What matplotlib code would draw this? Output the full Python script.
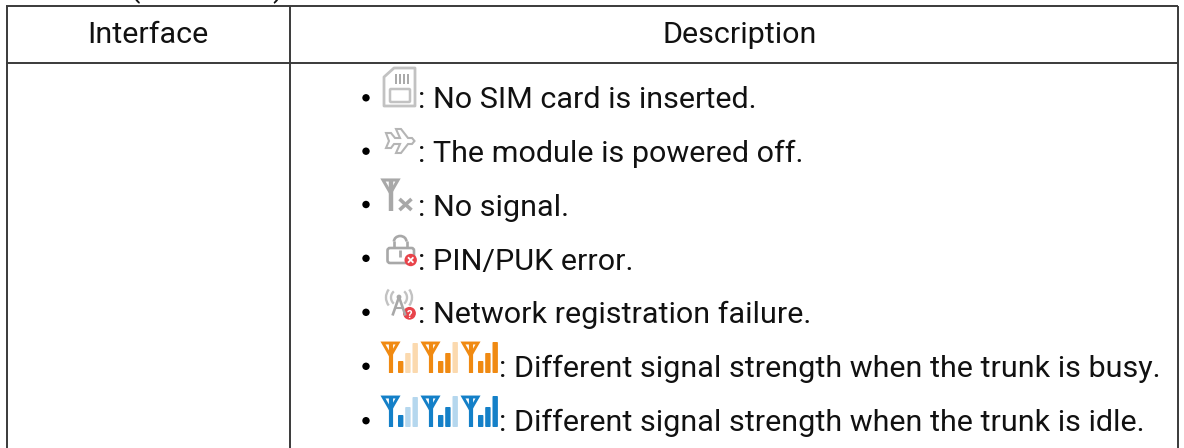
import matplotlib
matplotlib.use("Agg")
import matplotlib.pyplot as plt
from matplotlib.patches import Rectangle, FancyBboxPatch, Polygon, Circle, Arc, PathPatch
from matplotlib.path import Path

plt.rcParams['font.family'] = ['Roboto', 'DejaVu Sans']

headers = ["Interface", "Description"]
items = [
    ": No SIM card is inserted.",
    ": The module is powered off.",
    ": No signal.",
    ": PIN/PUK error.",
    ": Network registration failure.",
    ": Different signal strength when the trunk is busy.",
    ": Different signal strength when the trunk is idle.",
]
baselines = [108.2, 162.0, 215.8, 269.6, 323.4, 377.1, 431.0]
text_x = [418.5, 418.5, 418.5, 418.5, 418.5, 499, 499]
bullet_y = [97.8, 151.2, 204.5, 258.3, 312.3, 366.3, 420.7]

fig = plt.figure(figsize=(11.84, 4.48), dpi=100)
ax = fig.add_axes([0, 0, 1, 1])
ax.set_xlim(0, 1184)
ax.set_ylim(448, 0)
ax.axis('off')

LINE = '#3a3a3a'
GR = '#c2c2c2'
GD = '#a8a8a8'
FS = 21.93

def seg(xs, ys, c=LINE, lw=1.4, **k):
    ax.plot(xs, ys, color=c, lw=lw, solid_capstyle='butt', **k)

# table
seg([6, 1178], [6, 6])
seg([6, 1178], [63.3, 63.3])
seg([6.5, 6.5], [6, 448])
seg([290, 290], [6, 448])
seg([1177.5, 1177.5], [6, 448])

ax.text(148, 43.0, headers[0], fontsize=FS, ha='center', va='baseline', color='#111111')
ax.text(739.5, 43.0, headers[1], fontsize=FS, ha='center', va='baseline', color='#111111')

# clipped text above the table
ax.text(135, -3, "(", fontsize=FS, ha='center', va='baseline', color='#111111')
ax.text(278, -3, ")", fontsize=FS, ha='center', va='baseline', color='#111111')

# rows
for t, x, b, by in zip(items, text_x, baselines, bullet_y):
    ax.text(x, b, t, fontsize=FS, ha='left', va='baseline', color='#111111')
    ax.add_patch(Circle((366, by), 3.7, color='black', lw=0))

# SIM icon
ax.add_patch(PathPatch(Path([(384, 106), (384, 77), (394, 68), (415, 68), (415, 106), (384, 106)],
                            [1, 2, 2, 2, 2, 79]), fc='white', ec=GR, lw=2.0, joinstyle='round'))
ax.add_patch(FancyBboxPatch((390, 89), 20, 13, boxstyle='round,pad=0,rounding_size=1',
                            fc='white', ec=GR, lw=1.8))
for x in (396, 400, 404, 408):
    seg([x, x], [74, 84], c=GD, lw=1.4)

# plane icon
plane = [(386, 133), (391, 133), (395, 138), (400, 138), (396, 129), (401, 129), (408, 138),
         (412, 138), (414.5, 141), (412, 144), (408, 144), (401, 153), (396, 153), (400, 144),
         (394, 144), (391, 148), (386, 148), (389, 141)]
ax.add_patch(Polygon(plane, closed=True, fc='white', ec='#b5b5b5', lw=1.5))

# no-signal icon
def antenna(x, top, c, w=17, h=31, lw=2.6):
    ax.add_patch(Polygon([(x + 1, top + 1), (x + w - 1, top + 1), (x + w / 2, top + 14)], closed=True,
                         fill=False, ec=c, lw=lw * 0.7))
    seg([x + w / 2, x + w / 2], [top + 1, top + h], c=c, lw=lw)

antenna(382, 179, GD, w=17, h=32, lw=3.2)
seg([399.5, 411.5], [199, 210], c=GD, lw=2.6)
seg([399.5, 411.5], [210, 199], c=GD, lw=2.6)

# lock icon
ax.add_patch(FancyBboxPatch((389, 249.5), 23.5, 12, boxstyle='round,pad=1.5,rounding_size=2.5',
                            fc='white', ec=GD, lw=1.9))
seg([394, 394], [241, 248], c=GD, lw=1.9)
seg([406.5, 406.5], [241, 248], c=GD, lw=1.9)
ax.add_patch(Arc((400.2, 241.5), 12.5, 11, theta1=180, theta2=360, ec=GD, lw=1.9))
seg([400, 400], [250, 257], c=GD, lw=2.0)
ax.add_patch(Circle((410.7, 260), 6.2, color='#e8434a', lw=0))
seg([408, 413.4], [257.3, 262.7], c='white', lw=1.3)
seg([408, 413.4], [262.7, 257.3], c='white', lw=1.3)

# registration failure icon
seg([399, 392.5], [297, 315.5], c=GD, lw=1.9)
seg([399, 405.5], [297, 315.5], c=GD, lw=1.9)
seg([395, 403], [308, 308], c=GD, lw=1.5)
ax.add_patch(Circle((399, 297), 2.4, color=GD, lw=0))
for r, a in ((8, 50), (13, 38)):
    ax.add_patch(Arc((399, 297.5), 2 * r, 2 * r, theta1=180 - a, theta2=180 + a, ec=GR, lw=1.7))
    ax.add_patch(Arc((399, 297.5), 2 * r, 2 * r, theta1=-a, theta2=a, ec=GR, lw=1.7))
ax.add_patch(Circle((409.5, 313.3), 6.4, color='#e8434a', lw=0))
ax.text(409.5, 317.5, "?", fontsize=8, fontweight='bold', ha='center', va='baseline', color='white')

# signal icons
group_x = [382, 422, 462]
bar_tops = [[19, 11, 1], [19, 11, 0], [19, 11, 0]]
bar_lit = [[1, 0, 0], [1, 1, 0], [1, 1, 1]]
bar_dx = [16, 23.2, 30.5]

def signal(top, dark, light):
    for gx, tops, lit in zip(group_x, bar_tops, bar_lit):
        antenna(gx, top, dark, w=17, h=31, lw=3.0)
        for dx, tp, on in zip(bar_dx, tops, lit):
            ax.add_patch(FancyBboxPatch((gx + dx + 0.6, top + tp + 0.6), 4.2, 31 - tp - 1.2,
                                        boxstyle='round,pad=0.6,rounding_size=0.9',
                                        fc=dark if on else light, ec='none'))

signal(342, '#f08a12', '#fbd9ae')
signal(396, '#1480c8', '#b5d7ee')

fig.savefig('out.png', dpi=100)
